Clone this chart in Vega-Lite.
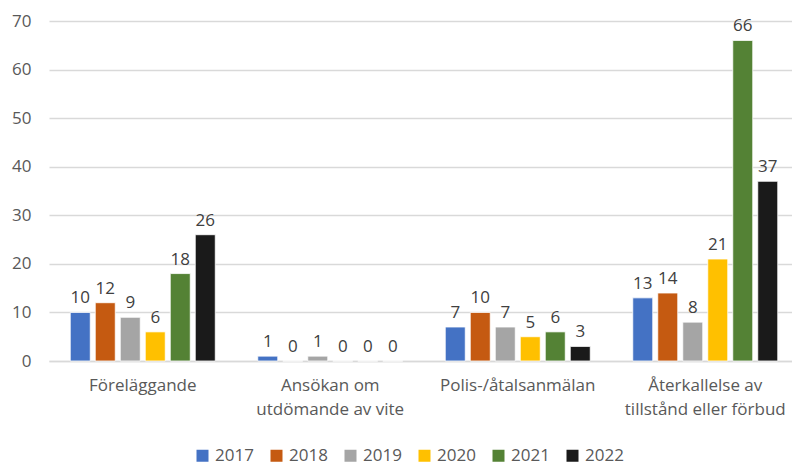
{
  "$schema": "https://vega.github.io/schema/vega-lite/v6.json",
  "width": 750,
  "height": 340,
  "autosize": {"type": "none"},
  "padding": {"left": 49, "top": 21, "right": 0, "bottom": 104},
  "config": {
    "font": "Open Sans",
    "view": {"stroke": null},
    "text": {"font": "Open Sans"}
  },
  "data": {
    "values": [
      {"kat": "Föreläggande", "ar": "2017", "v": 10},
      {"kat": "Föreläggande", "ar": "2018", "v": 12},
      {"kat": "Föreläggande", "ar": "2019", "v": 9},
      {"kat": "Föreläggande", "ar": "2020", "v": 6},
      {"kat": "Föreläggande", "ar": "2021", "v": 18},
      {"kat": "Föreläggande", "ar": "2022", "v": 26},
      {"kat": "Ansökan om|utdömande av vite", "ar": "2017", "v": 1},
      {"kat": "Ansökan om|utdömande av vite", "ar": "2018", "v": 0},
      {"kat": "Ansökan om|utdömande av vite", "ar": "2019", "v": 1},
      {"kat": "Ansökan om|utdömande av vite", "ar": "2020", "v": 0},
      {"kat": "Ansökan om|utdömande av vite", "ar": "2021", "v": 0},
      {"kat": "Ansökan om|utdömande av vite", "ar": "2022", "v": 0},
      {"kat": "Polis-/åtalsanmälan", "ar": "2017", "v": 7},
      {"kat": "Polis-/åtalsanmälan", "ar": "2018", "v": 10},
      {"kat": "Polis-/åtalsanmälan", "ar": "2019", "v": 7},
      {"kat": "Polis-/åtalsanmälan", "ar": "2020", "v": 5},
      {"kat": "Polis-/åtalsanmälan", "ar": "2021", "v": 6},
      {"kat": "Polis-/åtalsanmälan", "ar": "2022", "v": 3},
      {"kat": "Återkallelse av|tillstånd eller förbud", "ar": "2017", "v": 13},
      {"kat": "Återkallelse av|tillstånd eller förbud", "ar": "2018", "v": 14},
      {"kat": "Återkallelse av|tillstånd eller förbud", "ar": "2019", "v": 8},
      {"kat": "Återkallelse av|tillstånd eller förbud", "ar": "2020", "v": 21},
      {"kat": "Återkallelse av|tillstånd eller förbud", "ar": "2021", "v": 66},
      {"kat": "Återkallelse av|tillstånd eller förbud", "ar": "2022", "v": 37}
    ]
  },
  "encoding": {
    "x": {
      "field": "kat",
      "type": "nominal",
      "sort": null,
      "scale": {"paddingInner": 0, "paddingOuter": 0},
      "axis": {
        "title": null,
        "labelAngle": 0,
        "labelExpr": "split(datum.label, '|')",
        "labelFontSize": 17,
        "labelColor": "#595959",
        "labelPadding": 16,
        "labelLineHeight": 24,
        "ticks": false,
        "domainColor": "#D9D9D9",
        "domainWidth": 1.5,
        "grid": false
      }
    },
    "xOffset": {
      "field": "ar",
      "type": "nominal",
      "scale": {"paddingInner": 0.2, "paddingOuter": 0.85}
    },
    "y": {
      "field": "v",
      "type": "quantitative",
      "scale": {"domain": [0, 70]},
      "axis": {
        "title": null,
        "values": [0, 10, 20, 30, 40, 50, 60, 70],
        "labelFontSize": 17,
        "labelColor": "#595959",
        "labelPadding": 18,
        "ticks": false,
        "domain": false,
        "gridColor": "#D9D9D9",
        "gridWidth": 1.3
      }
    }
  },
  "layer": [
    {
      "mark": {"type": "bar", "stroke": "white", "strokeWidth": 0.8},
      "encoding": {
        "color": {
          "field": "ar",
          "type": "nominal",
          "scale": {
            "domain": ["2017", "2018", "2019", "2020", "2021", "2022"],
            "range": ["#4472C4", "#C55A11", "#A5A5A5", "#FFC000", "#548235", "#1A1A1A"]
          },
          "legend": {
            "title": null,
            "orient": "none",
            "legendX": 145,
            "legendY": 426,
            "direction": "horizontal",
            "columns": 6,
            "symbolType": "square",
            "symbolSize": 144,
            "symbolStrokeWidth": 0,
            "labelFontSize": 17,
            "labelColor": "#595959",
            "labelOffset": 4,
            "columnPadding": 14
          }
        }
      }
    },
    {
      "mark": {"type": "text", "baseline": "bottom", "dy": -5, "fontSize": 17, "color": "#404040"},
      "encoding": {
        "text": {"field": "v", "type": "quantitative"}
      }
    }
  ]
}
